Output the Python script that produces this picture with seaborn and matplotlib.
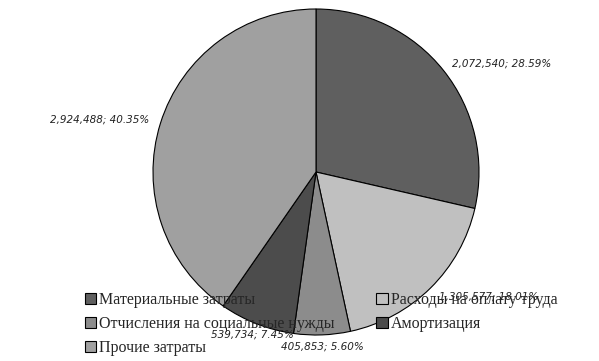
import numpy as np
import matplotlib
matplotlib.use("Agg")
import matplotlib.pyplot as plt
import seaborn as sns

categories = ["Материальные затраты", "Расходы на оплату труда",
              "Отчисления на социальные нужды", "Амортизация", "Прочие затраты"]
values = [2072540, 1305577, 405853, 539734, 2924488]
colors = ["#5f5f5f", "#c0c0c0", "#8c8c8c", "#4c4c4c", "#a0a0a0"]

sns.set_theme(style="white")
plt.rcParams["font.family"] = ["DejaVu Sans"]

fig = plt.figure(figsize=(5.99, 3.61), dpi=100)
W, H = 599, 361
cx, cy, r = 316, 172, 163
ax = fig.add_axes([(cx - r) / W, (H - cy - r) / H, 2 * r / W, 2 * r / H])

wedges, _ = ax.pie(values, colors=colors, startangle=90, counterclock=False,
                   wedgeprops=dict(edgecolor="black", linewidth=0.8))
ax.set_xlim(-1, 1)
ax.set_ylim(-1, 1)
ax.set_aspect("equal")
ax.axis("off")

total = sum(values)
for w, v in zip(wedges, values):
    ang = np.deg2rad((w.theta1 + w.theta2) / 2)
    x, y = np.cos(ang), np.sin(ang)
    d = 1.07
    if abs(x) < 0.45:
        ha = "center"
    elif x > 0:
        ha = "left"
    else:
        ha = "right"
    ax.text(d * x, d * y, f"{v:,}; {v / total * 100:.2f}%", ha=ha, va="center",
            fontsize=7.5, style="italic", color="#222222", clip_on=False, zorder=6)

order = [0, 2, 4, 1, 3]
leg = fig.legend([wedges[i] for i in order], [categories[i] for i in order],
                 loc="upper left", bbox_to_anchor=(85 / W, 1 - 292 / H), ncol=2,
                 frameon=False, prop={"family": "Liberation Serif", "size": 11.5},
                 handlelength=0.7, handleheight=0.7, handletextpad=0.2,
                 columnspacing=2.6, labelspacing=0.5, borderpad=0, borderaxespad=0)
for h in leg.legend_handles:
    h.set_edgecolor("black")
    h.set_linewidth(0.8)

fig.savefig("out.png", dpi=100)
